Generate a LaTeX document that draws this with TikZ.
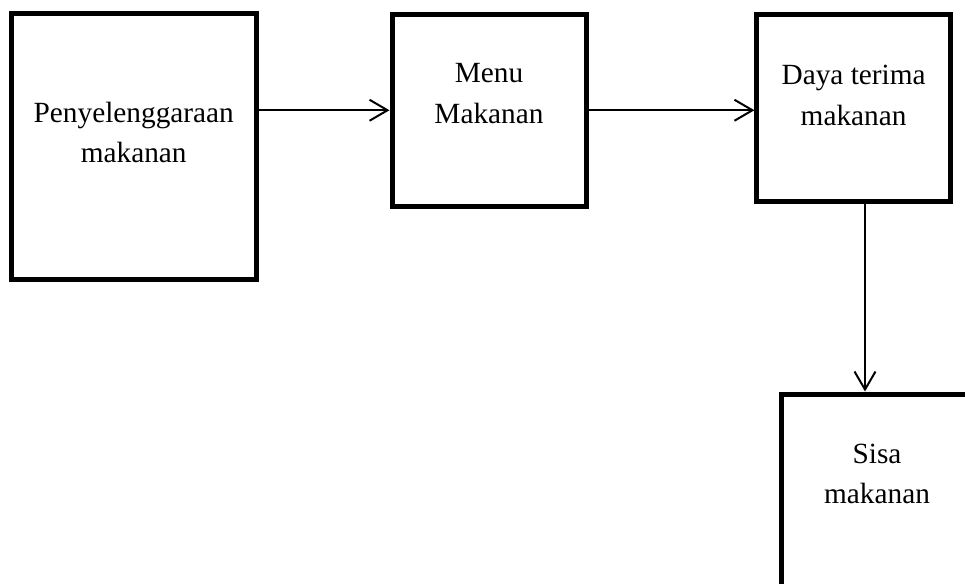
\documentclass[tikz,border=0pt]{standalone}
\usepackage{fontspec}
\setmainfont{Liberation Serif}
\usetikzlibrary{arrows.meta,positioning}
\tikzstyle{box} = [rectangle, draw=black, line width=5pt, inner sep=0pt, minimum width=194pt, minimum height=191.5pt]
\tikzstyle{caption} = [align=center, anchor=base, inner sep=0pt, font=\fontsize{29.3}{40.5}\selectfont]
\tikzstyle{arrow} = [line width=2pt, -{Straight Barb[length=18pt, width=21pt]}]

\begin{document}
\begin{tikzpicture}[x=1pt, y=-1pt]
\useasboundingbox (0,0) rectangle (965,583);
\clip (0,0) rectangle (965,583);
% the four boxes
\node (penye) [box, minimum width=244.5pt, minimum height=265.5pt] at (133.75,146.75) {};
\node (menu) [box] at (489,110.25) {};
\node (daya) [box, minimum width=193.3pt, minimum height=186.5pt] at (853.6,107.75) {};
\node (sisa) [box, minimum width=192pt, minimum height=192pt] at (877,490) {};
% texts (base = last line)
\node (penyeText) [caption] at ([yshift=-151pt]penye.north) {Penyelenggaraan\\makanan};
\node (menuText) [caption] at ([yshift=-111.5pt]menu.north) {Menu\\Makanan};
\node (dayaText) [caption] at ([yshift=-113pt]daya.north) {Daya terima\\makanan};
\node (sisaText) [caption] at ([yshift=-112pt]sisa.north) {Sisa\\makanan};
% arrows
\draw[arrow] (penye.east |- menu.west) -- (menu.west);
\draw[arrow] (menu.east) -- (menu.east -| daya.west);
\draw[arrow] ([xshift=11.4pt]daya.south) -- ([xshift=11.4pt]daya.south |- sisa.north);
\end{tikzpicture}
\end{document}
